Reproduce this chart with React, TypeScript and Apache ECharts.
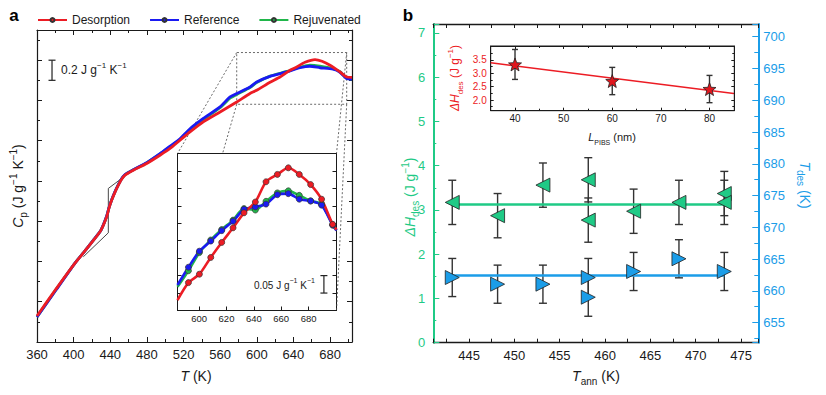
import React, { useEffect, useRef } from 'react';
import * as echarts from 'echarts';

const FONT = '"Liberation Sans", Arial, Helvetica, sans-serif';
const RED = '#ec1c24';
const BLUE = '#1a1af2';
const GREEN = '#20b64a';
const TEAL = '#1fca86';
const SKY = '#1b9de8';
const INK = '#1a1a1a';

// ---------- Panel a : heat capacity (T in K, Cp in J g^-1 K^-1, arbitrary offset)
const desorptionT = [360, 380.7, 401.5, 411.3, 423.3, 429.9, 436.1, 438.6, 441.6, 445.2, 448.8, 451.7, 456.1, 465.2, 479.8, 494.3, 505.3, 516.2, 527.1, 541.6, 559.9, 578.1, 592.6, 599.9, 614.5, 625.4, 636.3, 643.6, 652.7, 663.6, 671.3, 680, 690.9, 698.2, 704];
const desorptionCp = [1.458, 1.726, 1.984, 2.093, 2.229, 2.312, 2.444, 2.53, 2.61, 2.689, 2.758, 2.808, 2.858, 2.907, 2.974, 3.056, 3.123, 3.205, 3.287, 3.387, 3.486, 3.585, 3.669, 3.701, 3.781, 3.833, 3.9, 3.933, 3.979, 4.006, 3.989, 3.95, 3.883, 3.833, 3.83];
const referenceT = [360, 380.7, 401.5, 411.3, 423.3, 429.9, 436.1, 438.6, 441.6, 445.2, 448.8, 451.7, 456.1, 465.2, 479.8, 494.3, 505.3, 516.2, 527.1, 541.6, 559.9, 570.8, 578.1, 592.6, 599.9, 614.5, 632.7, 647.2, 658.1, 669, 683.2, 690.9, 698.2, 704];
const referenceCp = [1.448, 1.716, 1.984, 2.093, 2.232, 2.312, 2.451, 2.535, 2.614, 2.694, 2.763, 2.813, 2.863, 2.912, 2.982, 3.071, 3.146, 3.22, 3.319, 3.421, 3.536, 3.635, 3.669, 3.734, 3.784, 3.84, 3.883, 3.925, 3.94, 3.925, 3.91, 3.88, 3.818, 3.811];
const rejuvenatedCp = [1.45, 1.72, 1.984, 2.093, 2.232, 2.312, 2.45, 2.534, 2.613, 2.693, 2.762, 2.812, 2.862, 2.912, 2.98, 3.068, 3.14, 3.212, 3.31, 3.41, 3.528, 3.622, 3.66, 3.728, 3.778, 3.842, 3.888, 3.93, 3.95, 3.94, 3.915, 3.885, 3.82, 3.812];
const onsetT = [410.6, 437.9, 437.9, 452.5];
const onsetCp = [2.047, 2.285, 2.726, 2.825];
const zoomBoxT = [578.1, 698.2];
const zoomBoxCp = [3.562, 4.076];

// inset of panel a
const insetT = [584.2, 592.2, 600.2, 608.5, 616.5, 624.8, 632.8, 641.1, 648.9, 657.2, 665.2, 673.2, 681.5, 689.5, 697.6, 700.4];
const insetDesorption = [3.63, 3.68, 3.704, 3.752, 3.795, 3.837, 3.88, 3.911, 3.969, 3.99, 4.009, 3.99, 3.961, 3.919, 3.847, 3.832];
const insetReference = [3.673, 3.724, 3.77, 3.799, 3.829, 3.856, 3.89, 3.897, 3.905, 3.932, 3.935, 3.919, 3.914, 3.902, 3.845, 3.829];
const insetRejuvenated = [3.668, 3.714, 3.766, 3.802, 3.832, 3.859, 3.892, 3.888, 3.913, 3.937, 3.943, 3.93, 3.914, 3.905, 3.845, 3.83];

// ---------- Panel b
const annT = [443.15, 448.15, 453.15, 458.15, 458.15, 463.15, 468.15, 473.15, 473.15];
const dHdes = [3.17, 2.87, 3.56, 3.68, 2.77, 2.97, 3.17, 3.37, 3.17];
const dHdesErr = [0.5, 0.5, 0.5, 0.5, 0.5, 0.5, 0.5, 0.5, 0.5];
const annTdes = [443.15, 448.15, 453.15, 458.15, 458.15, 463.15, 468.15, 473.15];
const tDes = [662.1, 661.05, 661.05, 662.1, 659.0, 663.05, 665.05, 663.05];
const tDesErr = [3, 3, 3, 3, 3, 3, 3, 3];
const meanRange = [443.15, 473.15];
const dHdesMean = 3.12;
const tDesMean = 662.4;
const lPIBS = [40, 60, 80];
const dHvsL = [3.33, 2.71, 2.41];
const dHvsLErr = [0.56, 0.51, 0.51];
const fitL = [35, 85];
const fitdH = [3.395, 2.245];

const pairs = (xs: number[], ys: number[]) => xs.map((x, i) => [x, ys[i]]);
const only = (step: number, digits = 0, maxShown = Infinity) => (v: number) => {
  const r = v / step;
  return Math.abs(r - Math.round(r)) < 1e-6 && v <= maxShown + 1e-9 ? v.toFixed(digits) : '';
};

const starPath = (() => {
  const pts: string[] = [];
  for (let k = 0; k < 10; k++) {
    const r = k % 2 === 0 ? 50 : 21;
    const a = -Math.PI / 2 + (k * Math.PI) / 5;
    pts.push(`${(50 + r * Math.cos(a)).toFixed(2)} ${(50 + r * Math.sin(a)).toFixed(2)}`);
  }
  return 'path://M' + pts.join(' L') + ' Z';
})();

const tickStyle = (color: string, width = 1) => ({ color, width });

function xAxisDef(o: any) {
  return {
    type: 'value',
    splitLine: { show: false },
    axisLine: { onZero: false, lineStyle: { color: o.color || INK, width: o.lineWidth || 1.2 } },
    axisTick: { inside: true, length: o.tick ?? 5, lineStyle: tickStyle(o.color || INK) },
    minorTick: { show: o.minor !== false, splitNumber: 2, length: o.minorTick ?? 3, lineStyle: tickStyle(o.color || INK) },
    axisLabel: o.labels
      ? {
          margin: o.margin ?? 6,
          color: o.labelColor || INK,
          fontSize: o.fontSize || 13,
          fontFamily: FONT,
          formatter: o.labels,
        }
      : { show: false },
    ...o.extra,
  };
}

function errorBars(xs: number[], ys: number[], errs: number[], xi: number, yi: number, cap: number) {
  return {
    type: 'custom',
    xAxisIndex: xi,
    yAxisIndex: yi,
    z: 3,
    data: xs.map((x, i) => [x, ys[i] - errs[i], ys[i] + errs[i]]),
    encode: { x: 0, y: [1, 2] },
    renderItem: (_p: any, api: any) => {
      const x = api.value(0);
      const a = api.coord([x, api.value(2)]);
      const b = api.coord([x, api.value(1)]);
      const st = { stroke: '#333', lineWidth: 1.4 };
      return {
        type: 'group',
        children: [
          { type: 'line', shape: { x1: a[0], y1: a[1], x2: b[0], y2: b[1] }, style: st },
          { type: 'line', shape: { x1: a[0] - cap, y1: a[1], x2: a[0] + cap, y2: a[1] }, style: st },
          { type: 'line', shape: { x1: b[0] - cap, y1: b[1], x2: b[0] + cap, y2: b[1] }, style: st },
        ],
      };
    },
  };
}

function insetSeries(name: string, ys: number[], color: string) {
  return {
    name,
    type: 'line',
    xAxisIndex: 2,
    yAxisIndex: 2,
    smooth: 0.25,
    symbol: 'circle',
    symbolSize: 6,
    z: 4,
    lineStyle: { color, width: 2.6 },
    itemStyle: { color, borderColor: '#333', borderWidth: 0.7 },
    data: insetT.map((t, i) => ({
      value: [t, ys[i]],
      symbol: i === 0 || i === insetT.length - 1 ? 'none' : 'circle',
    })),
  };
}

function mainSeries(xs: number[], ys: number[], color: string) {
  return {
    type: 'line',
    xAxisIndex: 0,
    yAxisIndex: 0,
    smooth: 0.2,
    symbol: 'none',
    showSymbol: false,
    lineStyle: { color, width: 2.8 },
    data: pairs(xs, ys),
  };
}

function buildOption() {
  return {
    animation: false,
    backgroundColor: '#fff',
    textStyle: { fontFamily: FONT },
    legend: {
      data: ['Desorption', 'Reference', 'Rejuvenated'],
      left: 37,
      top: 14,
      padding: 0,
      itemWidth: 29,
      itemHeight: 5,
      itemGap: 19,
      textStyle: { fontSize: 12, fontFamily: FONT, color: INK },
    },
    grid: [
      { left: 37, top: 30, width: 315, height: 312 },
      { left: 177.5, top: 153.5, width: 159, height: 157, show: true, backgroundColor: '#fff', borderColor: INK, borderWidth: 1 },
      { left: 433.3, top: 24, width: 325, height: 318.7 },
      { left: 490.7, top: 46, width: 243.6, height: 64.7, show: true, backgroundColor: '#fff', borderColor: INK, borderWidth: 1 },
    ],
    xAxis: [
      xAxisDef({ labels: only(40), extra: { gridIndex: 0, position: 'bottom', min: 360, max: 704, interval: 40 } }),
      xAxisDef({ extra: { gridIndex: 0, position: 'top', min: 360, max: 704, interval: 40 } }),
      xAxisDef({ labels: only(20, 0, 680), fontSize: 9.5, margin: 3, tick: 4, minor: false, lineWidth: 1, extra: { gridIndex: 1, position: 'bottom', min: 584.2, max: 700.4, minInterval: 20, maxInterval: 20, splitNumber: 6 } }),
      xAxisDef({ labels: only(5), tick: 4, minorTick: 4, lineWidth: 1.4, extra: { gridIndex: 2, position: 'bottom', min: 441.06, max: 476.9, minInterval: 5, maxInterval: 5, splitNumber: 7 } }),
      xAxisDef({ tick: 4, minorTick: 4, lineWidth: 1.4, extra: { gridIndex: 2, position: 'top', min: 441.06, max: 476.9, minInterval: 5, maxInterval: 5, splitNumber: 7 } }),
      xAxisDef({ labels: only(10), fontSize: 10, margin: 3, tick: 3, minorTick: 2, lineWidth: 1, extra: { gridIndex: 3, position: 'bottom', min: 35, max: 85.1, minInterval: 10, maxInterval: 10, splitNumber: 5 } }),
      xAxisDef({ tick: 3, minorTick: 2, lineWidth: 1, extra: { gridIndex: 3, position: 'top', min: 35, max: 85.1, minInterval: 10, maxInterval: 10, splitNumber: 5 } }),
    ],
    yAxis: [
      xAxisDef({ extra: { gridIndex: 0, position: 'left', min: 1.2, max: 4.3, interval: 0.4 } }),
      xAxisDef({ extra: { gridIndex: 0, position: 'right', min: 1.2, max: 4.3, interval: 0.4 } }),
      xAxisDef({ tick: 4, minor: false, lineWidth: 1, extra: { gridIndex: 1, position: 'left', min: 3.6, max: 4.05, minInterval: 0.05, maxInterval: 0.05, splitNumber: 9 } }),
      xAxisDef({ tick: 4, minor: false, lineWidth: 1, extra: { gridIndex: 1, position: 'right', min: 3.6, max: 4.05, minInterval: 0.05, maxInterval: 0.05, splitNumber: 9 } }),
      xAxisDef({ labels: only(1), color: TEAL, labelColor: TEAL, lineWidth: 2, tick: 6, minorTick: 3, margin: 8, extra: { gridIndex: 2, position: 'left', min: 0, max: 7.2, interval: 1 } }),
      xAxisDef({ labels: only(5), color: SKY, labelColor: SKY, lineWidth: 2, tick: 6, minorTick: 4, margin: 5, extra: { gridIndex: 2, position: 'right', min: 651.84, max: 702, minInterval: 5, maxInterval: 5, splitNumber: 10 } }),
      xAxisDef({ labels: only(0.5, 1, 3.5), labelColor: RED, fontSize: 10, margin: 4, tick: 3, minorTick: 2, lineWidth: 1, extra: { gridIndex: 3, position: 'left', min: 1.6, max: 4.02, minInterval: 0.5, maxInterval: 0.5, splitNumber: 5 } }),
      xAxisDef({ tick: 3, minorTick: 2, lineWidth: 1, extra: { gridIndex: 3, position: 'right', min: 1.6, max: 4.02, minInterval: 0.5, maxInterval: 0.5, splitNumber: 5 } }),
    ],
    series: [
      // inset a (named, used by the legend)
      insetSeries('Rejuvenated', insetRejuvenated, GREEN),
      insetSeries('Reference', insetReference, BLUE),
      insetSeries('Desorption', insetDesorption, RED),
      // main a
      {
        type: 'line', xAxisIndex: 0, yAxisIndex: 0, symbol: 'none', z: 1,
        lineStyle: { color: '#444', width: 0.8, type: [2, 2] },
        data: [
          [zoomBoxT[0], zoomBoxCp[0]], [zoomBoxT[0], zoomBoxCp[1]], [zoomBoxT[1], zoomBoxCp[1]],
          [zoomBoxT[1], zoomBoxCp[0]], [zoomBoxT[0], zoomBoxCp[0]],
        ],
      },
      { type: 'line', xAxisIndex: 0, yAxisIndex: 0, symbol: 'none', z: 1, lineStyle: { color: '#333', width: 0.9 }, data: pairs(onsetT, onsetCp) },
      mainSeries(referenceT, rejuvenatedCp, GREEN),
      mainSeries(referenceT, referenceCp, BLUE),
      mainSeries(desorptionT, desorptionCp, RED),
      // panel b
      { type: 'line', xAxisIndex: 3, yAxisIndex: 4, symbol: 'none', lineStyle: { color: TEAL, width: 2.5 }, data: meanRange.map((t) => [t, dHdesMean]) },
      { type: 'line', xAxisIndex: 3, yAxisIndex: 5, symbol: 'none', lineStyle: { color: SKY, width: 2.5 }, data: meanRange.map((t) => [t, tDesMean]) },
      errorBars(annT, dHdes, dHdesErr, 3, 4, 4),
      errorBars(annTdes, tDes, tDesErr, 3, 5, 4),
      {
        type: 'scatter', xAxisIndex: 3, yAxisIndex: 4, z: 4, symbol: 'triangle', symbolRotate: 90, symbolSize: 14,
        itemStyle: { color: TEAL, borderColor: '#222', borderWidth: 0.8, opacity: 1 }, data: pairs(annT, dHdes),
      },
      {
        type: 'scatter', xAxisIndex: 3, yAxisIndex: 5, z: 4, symbol: 'triangle', symbolRotate: -90, symbolSize: 14,
        itemStyle: { color: SKY, borderColor: '#222', borderWidth: 0.8, opacity: 1 }, data: pairs(annTdes, tDes),
      },
      // inset b
      { type: 'line', xAxisIndex: 5, yAxisIndex: 6, symbol: 'none', z: 3, lineStyle: { color: RED, width: 1.5 }, data: pairs(fitL, fitdH) },
      errorBars(lPIBS, dHvsL, dHvsLErr, 5, 6, 3),
      {
        type: 'scatter', xAxisIndex: 5, yAxisIndex: 6, z: 5, symbol: starPath, symbolSize: 13,
        itemStyle: { color: '#e0161d', borderColor: '#222', borderWidth: 0.8, opacity: 1 }, data: pairs(lPIBS, dHvsL),
      },
    ],
  };
}

function rich(color: string, size: number) {
  const base = { fill: color, fontSize: size, fontFamily: FONT, lineHeight: size + 6 };
  return {
    n: { ...base },
    i: { ...base, fontStyle: 'italic' },
    sub: { fill: color, fontSize: Math.round(size * 0.68), fontFamily: FONT, verticalAlign: 'bottom', lineHeight: Math.round(size * 0.68) + 1 },
    sup: { fill: color, fontSize: Math.round(size * 0.68), fontFamily: FONT, verticalAlign: 'top', lineHeight: Math.round(size * 0.68) + 1 },
  };
}

function title(text: string, x: number, y: number, color: string, size: number, rotation = 0, align = 'center') {
  return {
    type: 'text', x, y, rotation, z: 10,
    style: { text, rich: rich(color, size), align, verticalAlign: 'middle', fill: color, fontSize: size, fontFamily: FONT },
  };
}

function buildGraphics(chart: any) {
  const pA = (x: number, y: number) => chart.convertToPixel({ xAxisIndex: 0, yAxisIndex: 0 }, [x, y]);
  const pI = (x: number, y: number) => chart.convertToPixel({ xAxisIndex: 2, yAxisIndex: 2 }, [x, y]);
  const rTL = pA(zoomBoxT[0], zoomBoxCp[1]);
  const rBL = pA(zoomBoxT[0], zoomBoxCp[0]);
  const rTR = pA(zoomBoxT[1], zoomBoxCp[1]);
  const rBR = pA(zoomBoxT[1], zoomBoxCp[0]);
  const iTL = pI(584.2, 4.05);
  const iBL = pI(584.2, 3.6);
  const iTR = pI(700.4, 4.05);
  const iBR = pI(700.4, 3.6);
  const t = (iTL[1] - rBL[1]) / (iBL[1] - rBL[1]);
  const cut = [rBL[0] + t * (iBL[0] - rBL[0]), iTL[1]];
  const dash = { stroke: '#444', lineWidth: 0.8, lineDash: [2, 2] };
  const ln = (a: number[], b: number[], style: any) => ({ type: 'line', z: 1, shape: { x1: a[0], y1: a[1], x2: b[0], y2: b[1] }, style });
  const solid = { stroke: '#222', lineWidth: 1.2 };
  // scale bars
  const sA1 = pA(376.4, 4.0), sA2 = pA(376.4, 3.8);
  const sI1 = pI(691.2, 3.7), sI2 = pI(691.2, 3.65);
  return [
    ln(rTL, iTL, dash),
    ln(rBL, cut, dash),
    ln(rTR, iTR, dash),
    ln(rBR, iBR, dash),
    ln(sA1, sA2, solid), ln([sA1[0] - 3.5, sA1[1]], [sA1[0] + 3.5, sA1[1]], solid), ln([sA2[0] - 3.5, sA2[1]], [sA2[0] + 3.5, sA2[1]], solid),
    ln(sI1, sI2, solid), ln([sI1[0] - 3.5, sI1[1]], [sI1[0] + 3.5, sI1[1]], solid), ln([sI2[0] - 3.5, sI2[1]], [sI2[0] + 3.5, sI2[1]], solid),
    title('{n|0.2 J g}{sup|−1}{n| K}{sup|−1}', sA1[0] + 9, (sA1[1] + sA2[1]) / 2, INK, 12, 0, 'left'),
    title('{n|0.05 J g}{sup|−1}{n| K}{sup|−1}', sI1[0] - 9, (sI1[1] + sI2[1]) / 2 + 1, INK, 10, 0, 'right'),
    { type: 'text', x: 14, y: 15, z: 10, style: { text: 'a', fontSize: 17, fontWeight: 'bold', fontFamily: FONT, fill: '#000', align: 'center', verticalAlign: 'middle' } },
    { type: 'text', x: 408, y: 15, z: 10, style: { text: 'b', fontSize: 17, fontWeight: 'bold', fontFamily: FONT, fill: '#000', align: 'center', verticalAlign: 'middle' } },
    title('{i|T}{n| (K)}', 196, 376, INK, 14),
    title('{i|C}{sub|p}{n| (J g}{sup|−1}{n| K}{sup|−1}{n|)}', 18, 186, INK, 14, Math.PI / 2),
    title('{i|T}{sub|ann}{n| (K)}', 596, 376, INK, 14),
    title('{i|ΔH}{sub|des}{n| (J g}{sup|−1}{n|)}', 410, 197, TEAL, 14, Math.PI / 2),
    title('{i|T}{sub|des}{n| (K)}', 805, 185, SKY, 14, -Math.PI / 2),
    title('{i|ΔH}{sub|des}{n| (J g}{sup|−1}{n|)}', 455, 78, RED, 12, Math.PI / 2),
    title('{i|L}{sub|PIBS}{n| (nm)}', 612, 137, INK, 11),
  ];
}

export default function App() {
  const ref = useRef<HTMLDivElement>(null);
  useEffect(() => {
    document.body.style.margin = '0';
    const chart = echarts.init(ref.current!, undefined, { renderer: 'svg' });
    chart.setOption(buildOption() as any);
    chart.setOption({ graphic: buildGraphics(chart) } as any);
    return () => chart.dispose();
  }, []);
  return <div ref={ref} style={{ width: 826, height: 395 }} />;
}
